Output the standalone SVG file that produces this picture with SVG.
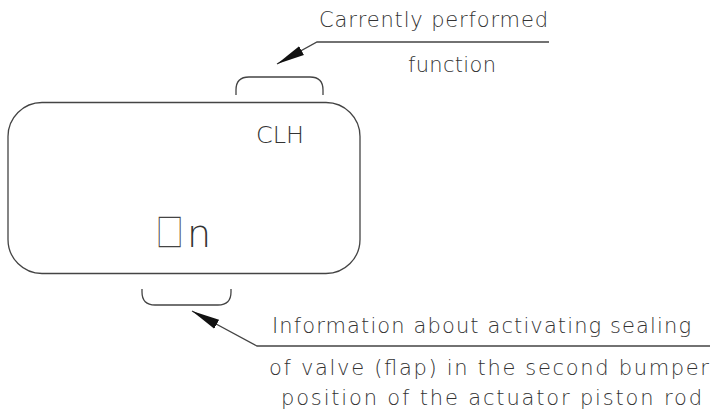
<svg xmlns="http://www.w3.org/2000/svg" width="719" height="414" viewBox="0 0 719 414">
<defs>
<style>
.ln{fill:none;stroke:#444;stroke-width:1.3}
.t{font-family:"DejaVu Sans","Liberation Sans",sans-serif;font-weight:200;fill:#333;font-size:21px}
.sq{font-family:"Noto Sans CJK SC","DejaVu Sans",sans-serif;font-weight:300;fill:#444;font-size:38px}
</style>
<marker id="ah" markerUnits="userSpaceOnUse" markerWidth="30" markerHeight="12" refX="28" refY="5" orient="auto" viewBox="0 0 30 10">
<path d="M0,0 L28,5 L0,10 Z" fill="#111"/>
</marker>
</defs>
<rect width="719" height="414" fill="#fff"/>
<g id="display">
<rect class="ln" x="8" y="102.5" width="352" height="171" rx="34" ry="34"/>
<text class="t" x="256" y="143" style="font-size:23px" textLength="48" lengthAdjust="spacingAndGlyphs">CLH</text>
<text class="sq" transform="translate(156,246) scale(0.72,1)">□</text>
<text class="t" x="187" y="247" style="font-size:38px">n</text>
</g>
<g id="bracket-top">
<path class="ln" d="M236,95 L236,90 Q236,77 249,77 L310,77 Q323,77 323,90 L323,95"/>
</g>
<g id="bracket-bottom">
<path class="ln" d="M142,289 L142,292 Q142,305 155,305 L218,305 Q231,305 231,292 L231,289"/>
</g>
<g id="label-function">
<text class="t" x="319" y="27" textLength="229" lengthAdjust="spacing">Carrently performed</text>
<text class="t" x="408" y="72" textLength="88" lengthAdjust="spacing">function</text>
</g>
<g id="label-info">
<text class="t" x="272" y="333" textLength="419" lengthAdjust="spacing">Information about activating sealing</text>
<text class="t" x="269" y="375" textLength="440" lengthAdjust="spacing">of valve (flap) in the second bumper</text>
<text class="t" x="281" y="405" textLength="421" lengthAdjust="spacing">position of the actuator piston rod</text>
</g>
<g id="connectors">
<polyline class="ln" points="549,42 317,42 277,64" marker-end="url(#ah)"/>
<polyline class="ln" points="710,346 257,346 192,311" marker-end="url(#ah)"/>
</g>
</svg>
